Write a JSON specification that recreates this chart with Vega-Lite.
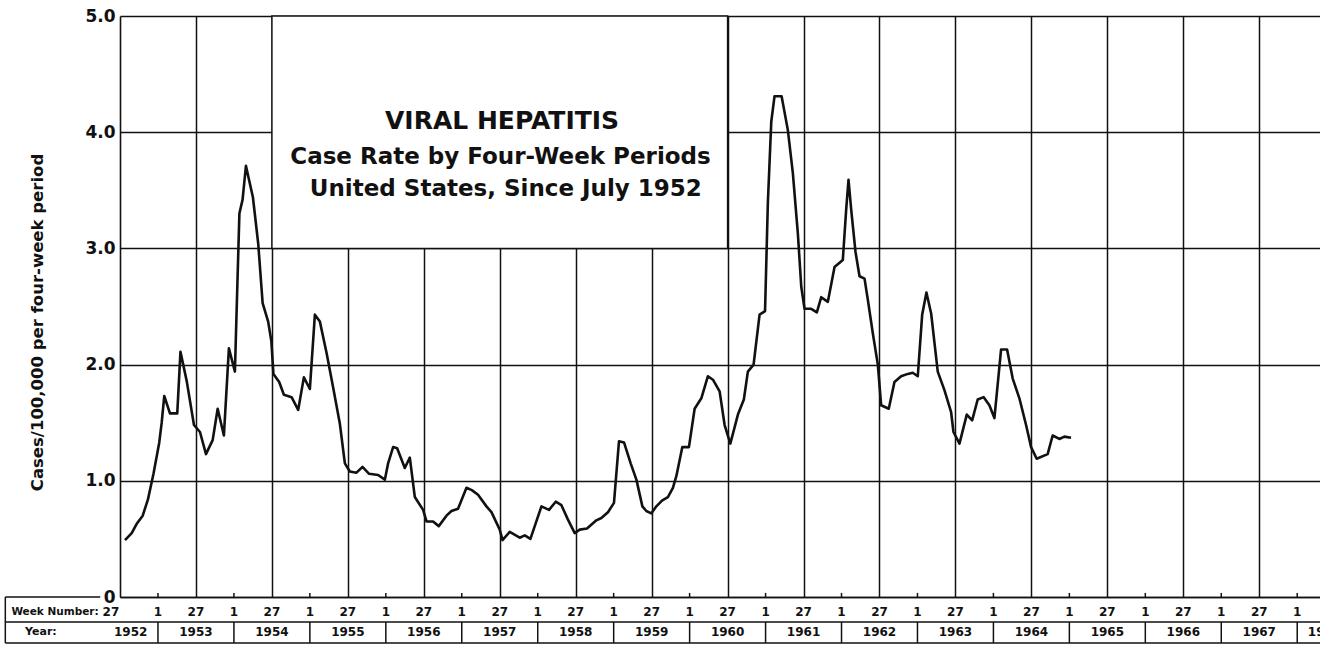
{
  "$schema": "https://vega.github.io/schema/vega-lite/v6.json",
  "width": 1200,
  "height": 581,
  "autosize": {"type": "none"},
  "padding": {"left": 120, "top": 16, "right": 0, "bottom": 52},
  "background": "white",
  "config": {"view": {"stroke": null}, "font": "DejaVu Sans"},
  "datasets": {
    "rates": [
      {"year": 1952.566, "rate": 0.49}, {"year": 1952.654, "rate": 0.55}, {"year": 1952.72, "rate": 0.63},
      {"year": 1952.799, "rate": 0.7}, {"year": 1952.868, "rate": 0.84}, {"year": 1952.941, "rate": 1.06},
      {"year": 1953.017, "rate": 1.33}, {"year": 1953.049, "rate": 1.5}, {"year": 1953.083, "rate": 1.73},
      {"year": 1953.158, "rate": 1.58}, {"year": 1953.254, "rate": 1.58}, {"year": 1953.296, "rate": 2.11},
      {"year": 1953.378, "rate": 1.86}, {"year": 1953.474, "rate": 1.48}, {"year": 1953.553, "rate": 1.42},
      {"year": 1953.632, "rate": 1.23}, {"year": 1953.72, "rate": 1.35}, {"year": 1953.786, "rate": 1.62},
      {"year": 1953.868, "rate": 1.39}, {"year": 1953.934, "rate": 2.14}, {"year": 1954.013, "rate": 1.94},
      {"year": 1954.072, "rate": 3.3}, {"year": 1954.114, "rate": 3.42}, {"year": 1954.158, "rate": 3.71},
      {"year": 1954.25, "rate": 3.44}, {"year": 1954.32, "rate": 3.04}, {"year": 1954.378, "rate": 2.53},
      {"year": 1954.451, "rate": 2.37}, {"year": 1954.493, "rate": 2.2}, {"year": 1954.52, "rate": 1.92},
      {"year": 1954.596, "rate": 1.85}, {"year": 1954.658, "rate": 1.74}, {"year": 1954.759, "rate": 1.72},
      {"year": 1954.846, "rate": 1.61}, {"year": 1954.921, "rate": 1.89}, {"year": 1955.0, "rate": 1.79},
      {"year": 1955.066, "rate": 2.43}, {"year": 1955.132, "rate": 2.37}, {"year": 1955.22, "rate": 2.1},
      {"year": 1955.307, "rate": 1.8}, {"year": 1955.395, "rate": 1.49}, {"year": 1955.461, "rate": 1.15},
      {"year": 1955.526, "rate": 1.08}, {"year": 1955.614, "rate": 1.07}, {"year": 1955.693, "rate": 1.12},
      {"year": 1955.78, "rate": 1.06}, {"year": 1955.899, "rate": 1.05}, {"year": 1955.987, "rate": 1.01},
      {"year": 1956.03, "rate": 1.15}, {"year": 1956.096, "rate": 1.29}, {"year": 1956.149, "rate": 1.28},
      {"year": 1956.25, "rate": 1.11}, {"year": 1956.316, "rate": 1.2}, {"year": 1956.382, "rate": 0.86},
      {"year": 1956.491, "rate": 0.75}, {"year": 1956.536, "rate": 0.65}, {"year": 1956.622, "rate": 0.65},
      {"year": 1956.697, "rate": 0.61}, {"year": 1956.799, "rate": 0.7}, {"year": 1956.864, "rate": 0.74},
      {"year": 1956.951, "rate": 0.76}, {"year": 1957.062, "rate": 0.94}, {"year": 1957.132, "rate": 0.92},
      {"year": 1957.214, "rate": 0.88}, {"year": 1957.325, "rate": 0.78}, {"year": 1957.391, "rate": 0.73},
      {"year": 1957.5, "rate": 0.58}, {"year": 1957.536, "rate": 0.49}, {"year": 1957.632, "rate": 0.56},
      {"year": 1957.763, "rate": 0.51}, {"year": 1957.829, "rate": 0.53}, {"year": 1957.904, "rate": 0.5},
      {"year": 1958.049, "rate": 0.78}, {"year": 1958.149, "rate": 0.75}, {"year": 1958.237, "rate": 0.82},
      {"year": 1958.312, "rate": 0.79}, {"year": 1958.395, "rate": 0.67}, {"year": 1958.487, "rate": 0.55},
      {"year": 1958.553, "rate": 0.58}, {"year": 1958.649, "rate": 0.59}, {"year": 1958.772, "rate": 0.66},
      {"year": 1958.838, "rate": 0.68}, {"year": 1958.925, "rate": 0.73}, {"year": 1959.004, "rate": 0.81},
      {"year": 1959.07, "rate": 1.34}, {"year": 1959.136, "rate": 1.33}, {"year": 1959.224, "rate": 1.15},
      {"year": 1959.299, "rate": 1.01}, {"year": 1959.378, "rate": 0.78}, {"year": 1959.43, "rate": 0.74},
      {"year": 1959.496, "rate": 0.72}, {"year": 1959.562, "rate": 0.78}, {"year": 1959.636, "rate": 0.83},
      {"year": 1959.714, "rate": 0.86}, {"year": 1959.78, "rate": 0.94}, {"year": 1959.825, "rate": 1.04},
      {"year": 1959.904, "rate": 1.29}, {"year": 1959.991, "rate": 1.29}, {"year": 1960.066, "rate": 1.62},
      {"year": 1960.154, "rate": 1.71}, {"year": 1960.241, "rate": 1.9}, {"year": 1960.307, "rate": 1.87},
      {"year": 1960.395, "rate": 1.77}, {"year": 1960.461, "rate": 1.48}, {"year": 1960.536, "rate": 1.32},
      {"year": 1960.636, "rate": 1.57}, {"year": 1960.714, "rate": 1.7}, {"year": 1960.767, "rate": 1.94},
      {"year": 1960.842, "rate": 2.0}, {"year": 1960.921, "rate": 2.43}, {"year": 1960.993, "rate": 2.46},
      {"year": 1961.03, "rate": 3.39}, {"year": 1961.075, "rate": 4.09}, {"year": 1961.118, "rate": 4.31},
      {"year": 1961.211, "rate": 4.31}, {"year": 1961.293, "rate": 4.02}, {"year": 1961.359, "rate": 3.65},
      {"year": 1961.425, "rate": 3.13}, {"year": 1961.47, "rate": 2.67}, {"year": 1961.513, "rate": 2.48},
      {"year": 1961.601, "rate": 2.48}, {"year": 1961.675, "rate": 2.45}, {"year": 1961.733, "rate": 2.58},
      {"year": 1961.82, "rate": 2.54}, {"year": 1961.908, "rate": 2.84}, {"year": 1962.017, "rate": 2.9},
      {"year": 1962.062, "rate": 3.34}, {"year": 1962.092, "rate": 3.59}, {"year": 1962.128, "rate": 3.33},
      {"year": 1962.184, "rate": 2.97}, {"year": 1962.237, "rate": 2.76}, {"year": 1962.303, "rate": 2.74},
      {"year": 1962.346, "rate": 2.56}, {"year": 1962.412, "rate": 2.27}, {"year": 1962.478, "rate": 2.0},
      {"year": 1962.522, "rate": 1.65}, {"year": 1962.622, "rate": 1.62}, {"year": 1962.697, "rate": 1.85},
      {"year": 1962.785, "rate": 1.9}, {"year": 1962.872, "rate": 1.92}, {"year": 1962.938, "rate": 1.93},
      {"year": 1963.004, "rate": 1.9}, {"year": 1963.062, "rate": 2.43}, {"year": 1963.118, "rate": 2.62},
      {"year": 1963.18, "rate": 2.44}, {"year": 1963.267, "rate": 1.94}, {"year": 1963.355, "rate": 1.78},
      {"year": 1963.443, "rate": 1.59}, {"year": 1963.474, "rate": 1.42}, {"year": 1963.553, "rate": 1.32},
      {"year": 1963.649, "rate": 1.57}, {"year": 1963.72, "rate": 1.52}, {"year": 1963.793, "rate": 1.7},
      {"year": 1963.872, "rate": 1.72}, {"year": 1963.947, "rate": 1.65}, {"year": 1964.013, "rate": 1.54},
      {"year": 1964.101, "rate": 2.13}, {"year": 1964.18, "rate": 2.13}, {"year": 1964.254, "rate": 1.88},
      {"year": 1964.342, "rate": 1.71}, {"year": 1964.43, "rate": 1.48}, {"year": 1964.496, "rate": 1.29},
      {"year": 1964.57, "rate": 1.19}, {"year": 1964.714, "rate": 1.23}, {"year": 1964.78, "rate": 1.39},
      {"year": 1964.868, "rate": 1.36}, {"year": 1964.934, "rate": 1.38}, {"year": 1965.022, "rate": 1.37}
    ],
    "weeks": [
      {"t": 1952.38, "week": "27"},
      {"t": 1953.0, "week": "1"}, {"t": 1953.5, "week": "27"},
      {"t": 1954.0, "week": "1"}, {"t": 1954.5, "week": "27"},
      {"t": 1955.0, "week": "1"}, {"t": 1955.5, "week": "27"},
      {"t": 1956.0, "week": "1"}, {"t": 1956.5, "week": "27"},
      {"t": 1957.0, "week": "1"}, {"t": 1957.5, "week": "27"},
      {"t": 1958.0, "week": "1"}, {"t": 1958.5, "week": "27"},
      {"t": 1959.0, "week": "1"}, {"t": 1959.5, "week": "27"},
      {"t": 1960.0, "week": "1"}, {"t": 1960.5, "week": "27"},
      {"t": 1961.0, "week": "1"}, {"t": 1961.5, "week": "27"},
      {"t": 1962.0, "week": "1"}, {"t": 1962.5, "week": "27"},
      {"t": 1963.0, "week": "1"}, {"t": 1963.5, "week": "27"},
      {"t": 1964.0, "week": "1"}, {"t": 1964.5, "week": "27"},
      {"t": 1965.0, "week": "1"}, {"t": 1965.5, "week": "27"},
      {"t": 1966.0, "week": "1"}, {"t": 1966.5, "week": "27"},
      {"t": 1967.0, "week": "1"}, {"t": 1967.5, "week": "27"},
      {"t": 1968.0, "week": "1"}
    ],
    "years": [
      {"t": 1952.64, "label": "1952"}, {"t": 1953.5, "label": "1953"}, {"t": 1954.5, "label": "1954"},
      {"t": 1955.5, "label": "1955"}, {"t": 1956.5, "label": "1956"}, {"t": 1957.5, "label": "1957"},
      {"t": 1958.5, "label": "1958"}, {"t": 1959.5, "label": "1959"}, {"t": 1960.5, "label": "1960"},
      {"t": 1961.5, "label": "1961"}, {"t": 1962.5, "label": "1962"}, {"t": 1963.5, "label": "1963"},
      {"t": 1964.5, "label": "1964"}, {"t": 1965.5, "label": "1965"}, {"t": 1966.5, "label": "1966"},
      {"t": 1967.5, "label": "1967"}, {"t": 1968.36, "label": "1968"}
    ],
    "titles": [
      {"line1": "VIRAL HEPATITIS", "line2": "Case Rate by Four-Week Periods", "line3": "United States, Since July 1952", "weekHeader": "Week Number:", "yearHeader": "Year:"}
    ]
  },
  "layer": [
    {
      "data": {"name": "rates"},
      "mark": {"type": "line", "color": "#111111", "strokeWidth": 2.6, "strokeJoin": "round"},
      "encoding": {
        "x": {
          "field": "year", "type": "quantitative",
          "scale": {"domain": [1952.5, 1968.3], "nice": false, "zero": false},
          "axis": {
            "values": [1953.5, 1954.5, 1955.5, 1956.5, 1957.5, 1958.5, 1959.5, 1960.5, 1961.5, 1962.5, 1963.5, 1964.5, 1965.5, 1966.5, 1967.5],
            "grid": true, "gridColor": "#111111", "gridWidth": 1.5, "gridOpacity": 1,
            "ticks": false, "labels": false, "title": null,
            "domain": true, "domainColor": "#111111", "domainWidth": 1.6
          }
        },
        "y": {
          "field": "rate", "type": "quantitative",
          "scale": {"domain": [0, 5], "nice": false, "zero": true},
          "axis": {
            "values": [0, 1, 2, 3, 4, 5],
            "grid": true, "gridColor": "#111111", "gridWidth": 1.5, "gridOpacity": 1,
            "ticks": false, "domain": true, "domainColor": "#111111", "domainWidth": 1.6,
            "labelExpr": "datum.value == 0 ? '0' : format(datum.value, '.1f')",
            "labelFont": "DejaVu Sans", "labelFontSize": 17, "labelFontWeight": "bold", "labelColor": "#111111",
            "labelPadding": 5, "labelOverlap": false,
            "title": "Cases/100,000 per four-week period",
            "titleFont": "DejaVu Sans", "titleFontSize": 16.5, "titleFontWeight": "bold", "titleColor": "#111111",
            "titleAngle": 270, "titleAlign": "center", "titleBaseline": "middle",
            "titleX": -83, "titleY": 306
          }
        }
      }
    },
    {
      "data": {"name": "titles"},
      "mark": {"type": "rect", "fill": "white", "stroke": "#111111", "strokeWidth": 1.5},
      "encoding": {
        "x": {"datum": 1954.5}, "x2": {"datum": 1960.5},
        "y": {"datum": 3}, "y2": {"datum": 5}
      }
    },
    {
      "data": {"name": "titles"},
      "mark": {"type": "text", "align": "center", "baseline": "middle", "font": "DejaVu Sans", "fontSize": 25, "fontWeight": "bold", "color": "#111111"},
      "encoding": {"x": {"datum": 1957.53}, "y": {"datum": 4.1}, "text": {"field": "line1"}}
    },
    {
      "data": {"name": "titles"},
      "mark": {"type": "text", "align": "center", "baseline": "middle", "font": "DejaVu Sans", "fontSize": 23, "fontWeight": "bold", "color": "#111111"},
      "encoding": {"x": {"datum": 1957.51}, "y": {"datum": 3.79}, "text": {"field": "line2"}}
    },
    {
      "data": {"name": "titles"},
      "mark": {"type": "text", "align": "center", "baseline": "middle", "font": "DejaVu Sans", "fontSize": 23, "fontWeight": "bold", "color": "#111111"},
      "encoding": {"x": {"datum": 1957.58}, "y": {"datum": 3.51}, "text": {"field": "line3"}}
    },
    {
      "data": {"name": "titles"},
      "mark": {"type": "rule", "color": "#111111", "strokeWidth": 1.5},
      "encoding": {"x": {"datum": 1950.99}, "x2": {"datum": 1952.24}, "y": {"datum": 0}}
    },
    {
      "data": {"name": "titles"},
      "mark": {"type": "rule", "color": "#111111", "strokeWidth": 1.5},
      "encoding": {"x": {"datum": 1950.99}, "x2": {"datum": 1968.3}, "y": {"datum": -0.215}}
    },
    {
      "data": {"name": "titles"},
      "mark": {"type": "rule", "color": "#111111", "strokeWidth": 1.5},
      "encoding": {"x": {"datum": 1950.99}, "x2": {"datum": 1968.3}, "y": {"datum": -0.396}}
    },
    {
      "data": {"name": "titles"},
      "mark": {"type": "rule", "color": "#111111", "strokeWidth": 1.5},
      "encoding": {"x": {"datum": 1950.99}, "y": {"datum": 0}, "y2": {"datum": -0.396}}
    },
    {
      "data": {"name": "weeks"},
      "transform": [{"filter": "datum.week == '1'"}],
      "mark": {"type": "rule", "color": "#111111", "strokeWidth": 1.5},
      "encoding": {"x": {"field": "t", "type": "quantitative"}, "y": {"datum": -0.215}, "y2": {"datum": -0.396}}
    },
    {
      "data": {"name": "weeks"},
      "transform": [{"filter": "datum.week == '1'"}],
      "mark": {"type": "rule", "color": "#111111", "strokeWidth": 1.5},
      "encoding": {"x": {"field": "t", "type": "quantitative"}, "y": {"datum": 0}, "y2": {"datum": 0.035}}
    },
    {
      "data": {"name": "weeks"},
      "mark": {"type": "text", "align": "center", "baseline": "middle", "font": "DejaVu Sans", "fontSize": 12, "fontWeight": "bold", "color": "#111111"},
      "encoding": {"x": {"field": "t", "type": "quantitative"}, "y": {"datum": -0.128}, "text": {"field": "week"}}
    },
    {
      "data": {"name": "years"},
      "mark": {"type": "text", "align": "center", "baseline": "middle", "font": "DejaVu Sans", "fontSize": 12, "fontWeight": "bold", "color": "#111111"},
      "encoding": {"x": {"field": "t", "type": "quantitative"}, "y": {"datum": -0.303}, "text": {"field": "label"}}
    },
    {
      "data": {"name": "titles"},
      "mark": {"type": "text", "align": "left", "baseline": "middle", "font": "DejaVu Sans", "fontSize": 10.5, "fontWeight": "bold", "color": "#111111"},
      "encoding": {"x": {"datum": 1951.07}, "y": {"datum": -0.128}, "text": {"field": "weekHeader"}}
    },
    {
      "data": {"name": "titles"},
      "mark": {"type": "text", "align": "left", "baseline": "middle", "font": "DejaVu Sans", "fontSize": 11, "fontWeight": "bold", "color": "#111111"},
      "encoding": {"x": {"datum": 1951.25}, "y": {"datum": -0.303}, "text": {"field": "yearHeader"}}
    }
  ]
}
